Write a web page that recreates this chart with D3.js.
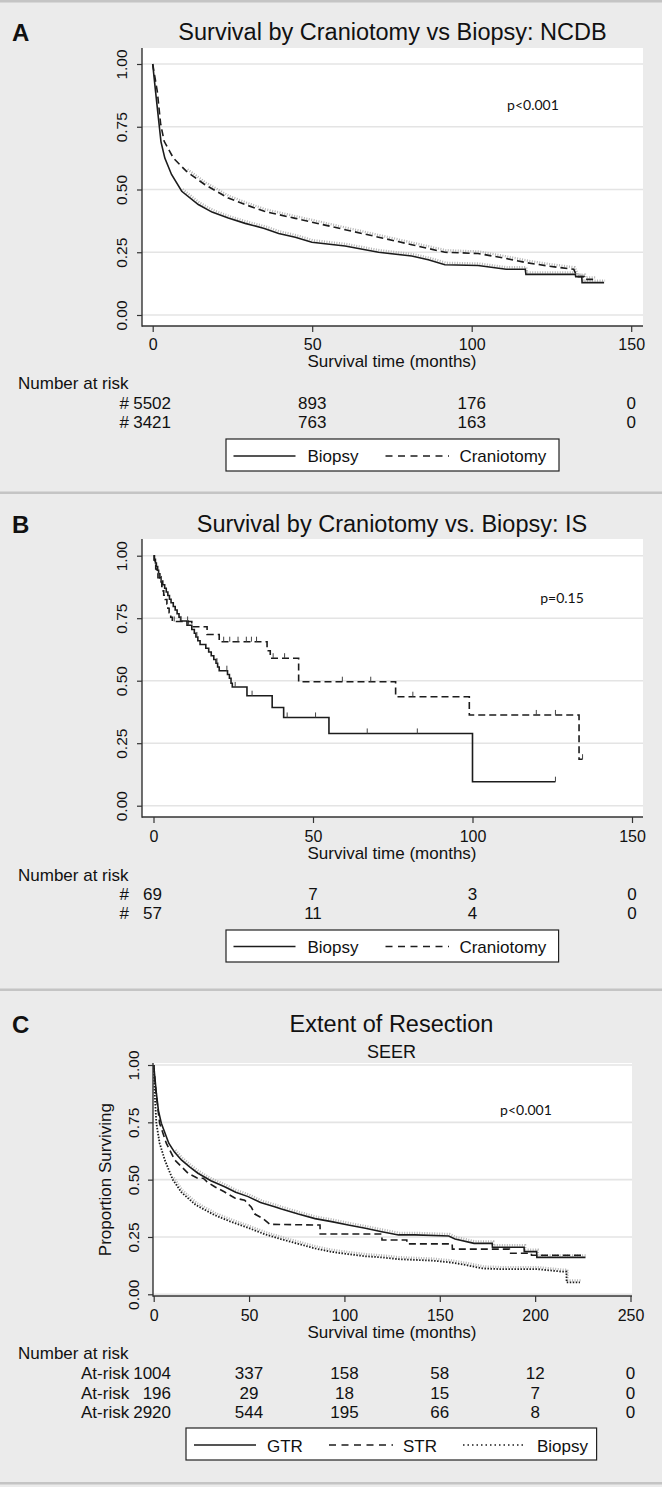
<!DOCTYPE html>
<html><head><meta charset="utf-8">
<script src="https://cdn.jsdelivr.net/npm/d3@7"></script>
<style>body{margin:0;background:#ebebeb}svg{display:block}text{font-family:"Liberation Sans",Arial,sans-serif;fill:#111}</style>
</head><body><svg id="c" width="662" height="1487"></svg>
<script>
// ---------- Panel A: NCDB ----------
const ncdbBiopsyT = [0,0.9,1.45,2.0,2.6,3.8,5.9,9.1,14.3,18.6,23.7,29,35,39.5,44.7,49.9,60.3,70.8,81.2,86.4,91.6,102,110.8,116.8,117,132.5,132.6,134.5,134.6,141.5];
const ncdbBiopsyS = [1,0.89,0.825,0.76,0.69,0.625,0.56,0.493,0.44,0.41,0.386,0.365,0.345,0.325,0.31,0.29,0.275,0.25,0.235,0.22,0.20,0.197,0.182,0.182,0.162,0.162,0.153,0.153,0.129,0.129];
const ncdbCranT = [0,1.45,2.5,3.6,6.5,10.6,16.4,23.7,29,35,39.5,44.7,49.9,60.3,70.8,81.2,91.6,102,110.4,117.4,124,132,133,135.2,135.3,138.5];
const ncdbCranS = [1,0.89,0.76,0.692,0.625,0.572,0.519,0.466,0.44,0.413,0.40,0.385,0.37,0.34,0.31,0.28,0.25,0.245,0.226,0.208,0.195,0.182,0.153,0.153,0.142,0.142];
const ncdbRiskTimes = [0,50,100,150];
const ncdbRiskBiopsy = [5502,893,176,0];
const ncdbRiskCran = [3421,763,163,0];

// ---------- Panel B: IS ----------
const isBiopsyT = [0,0.3,0.6,0.9,1.3,1.6,2.0,2.4,2.9,3.5,4.0,4.5,5.0,5.5,6.2,6.8,7.4,8.0,8.5,10.5,12.0,12.8,13.3,13.9,14.6,16.4,17.3,18.1,18.9,19.6,20.1,20.6,23.2,23.8,24.3,24.7,29.3,37.2,40.8,55.0,100.0,126];
const isBiopsyS = [1,0.986,0.971,0.957,0.942,0.928,0.913,0.899,0.884,0.870,0.855,0.841,0.826,0.812,0.797,0.783,0.768,0.754,0.739,0.722,0.705,0.690,0.675,0.660,0.645,0.630,0.615,0.600,0.585,0.570,0.555,0.540,0.525,0.510,0.490,0.475,0.440,0.393,0.353,0.289,0.096,0.096];
const isBiopsyCens = [2.5,8.6,11,13.6,19.9,23,25.6,30.9,41.9,50.8,67,82.7,126];
const isCranT = [0,0.2,0.4,0.7,1.0,1.4,1.9,2.6,2.9,3.2,3.7,4.2,4.5,4.9,5.4,5.9,12.0,16.8,20.6,35.6,36.6,45.5,75.9,99.0,133.4,134.5];
const isCranS = [1,0.982,0.965,0.947,0.930,0.912,0.895,0.877,0.860,0.842,0.825,0.807,0.790,0.772,0.754,0.737,0.716,0.685,0.656,0.620,0.590,0.496,0.436,0.363,0.186,0.186];
const isCranCens = [1.5,6.5,10.7,22,23.9,26.5,29.1,30.7,32.3,37.5,41.1,59.2,68.1,81.3,120,126,134.5];
const isRiskTimes = [0,50,100,150];
const isRiskBiopsy = [69,7,3,0];
const isRiskCran = [57,11,4,0];

// ---------- Panel C: SEER ----------
const seerGtrT = [0,1.4,2.5,4,7.9,10.9,14.5,19,23.2,30,37.2,43,49.5,56,63.4,67,75.8,84.6,93.3,102,111,119.6,128.4,137,154.7,158,168,177.5,177.6,194.2,194.3,200.8,200.9,226.4];
const seerGtrS = [1,0.877,0.80,0.746,0.659,0.62,0.586,0.555,0.528,0.495,0.469,0.445,0.426,0.40,0.382,0.372,0.35,0.33,0.317,0.302,0.288,0.273,0.259,0.259,0.254,0.241,0.222,0.222,0.205,0.205,0.186,0.186,0.161,0.161];
const seerStrT = [0,1.2,3.1,6.6,11,18,23,26,28,32,37,42.5,47.7,51.2,53,57.4,61,87.2,87.3,119.6,119.7,132.7,132.8,156.5,156.6,186.5,186.6,198,198.1,226];
const seerStrS = [1,0.88,0.746,0.659,0.586,0.528,0.506,0.506,0.49,0.469,0.447,0.42,0.41,0.38,0.35,0.33,0.305,0.302,0.263,0.263,0.237,0.237,0.22,0.22,0.197,0.197,0.179,0.179,0.17,0.17];
const seerBiopsyT = [0,0.5,1.4,3.1,5.8,10,14.5,22,32,40,49.5,58.2,67,75.8,84.6,93.3,102,111,119.6,128.4,137,146,154.7,163.5,172.3,181,200.8,214,216.4,216.5,223.5];
const seerBiopsyS = [1,0.877,0.746,0.659,0.586,0.50,0.445,0.39,0.345,0.318,0.29,0.262,0.24,0.22,0.20,0.185,0.175,0.166,0.161,0.153,0.150,0.147,0.14,0.128,0.113,0.11,0.11,0.099,0.099,0.052,0.052];
const seerRiskTimes = [0,50,100,150,200,250];
const seerRiskGtr = [1004,337,158,58,12,0];
const seerRiskStr = [196,29,18,15,7,0];
const seerRiskBiopsy = [2920,544,195,66,8,0];

const yTicks = [0,0.25,0.5,0.75,1];

const svg = d3.select('#c');
svg.append('rect').attr('width',662).attr('height',1487).attr('fill','#ebebeb');
[0,491.5,988.5,1482].forEach(yy=>svg.append('rect').attr('x',0).attr('y',yy).attr('width',662).attr('height',2.5).attr('fill','#c4c4c4'));

function survAt(t,T,S){let v=S[0];for(let i=0;i<T.length;i++){if(T[i]<=t)v=S[i];}return v;}

function panel(c){
  const g = svg.append('g');
  const x = d3.scaleLinear().domain(c.xDomain).range(c.xRange);
  const y = d3.scaleLinear().domain([0,1]).range(c.yRange);
  const P = c.plot;
  g.append('rect').attr('x',P.x0).attr('y',P.y0).attr('width',P.x1-P.x0).attr('height',P.y1-P.y0).attr('fill','#fff');
  g.selectAll('.grid').data(yTicks).join('line')
    .attr('x1',P.x0).attr('x2',P.x1).attr('y1',d=>y(d)).attr('y2',d=>y(d))
    .attr('stroke','#e4e4e4').attr('stroke-width',1.6);
  c.series.forEach(s=>{
    const pts = s.t.map((t,i)=>[t,s.s[i]]);
    const line = d3.line().x(d=>x(d[0])).y(d=>y(d[1])).curve(s.step?d3.curveStepAfter:d3.curveLinear);
    if(s.halo){
      g.append('path').attr('d',line(pts.filter(d=>d[0]>8))).attr('fill','none')
        .attr('stroke','#b4b4b4').attr('stroke-width',2.4).attr('stroke-dasharray','1,1.5')
        .attr('transform','translate(1,-2)');
    }
    g.append('path').attr('d',line(pts)).attr('fill','none').attr('stroke','#1c1c1c')
      .attr('stroke-width',s.width||1.6).attr('stroke-dasharray',s.dash||null);
    if(s.cens){
      g.selectAll(null).data(s.cens).join('line')
        .attr('x1',d=>x(d)).attr('x2',d=>x(d))
        .attr('y1',d=>y(survAt(d,s.t,s.s))).attr('y2',d=>y(survAt(d,s.t,s.s))-5)
        .attr('stroke','#444').attr('stroke-width',1);
    }
  });
  const ya = g.append('g').attr('transform',`translate(${P.x0},0)`)
    .call(d3.axisLeft(y).tickValues(yTicks).tickFormat(d3.format('.2f')).tickSize(5).tickPadding(0));
  ya.select('.domain').remove();
  ya.selectAll('line').attr('stroke','#333').attr('stroke-width',1.2);
  ya.selectAll('text').attr('transform','rotate(-90)').attr('x',0).attr('y',-c.yLabOff).attr('dy',0)
    .attr('text-anchor','middle').style('font-size','15.5px').style('font-family','"Liberation Sans",Arial,sans-serif').attr('fill','#111');
  const xa = g.append('g').attr('transform',`translate(0,${P.y1})`)
    .call(d3.axisBottom(x).tickValues(c.xTicks).tickFormat(d3.format('d')).tickSize(6).tickPadding(0));
  xa.select('.domain').remove();
  xa.selectAll('line').attr('stroke','#333').attr('stroke-width',1.2);
  xa.selectAll('text').attr('y',c.xLabBase-P.y1).attr('dy',0).style('font-size','16px')
    .style('font-family','"Liberation Sans",Arial,sans-serif').attr('fill','#111');
  g.append('line').attr('x1',P.x0).attr('x2',P.x0).attr('y1',P.y0).attr('y2',P.y1+0.7).attr('stroke','#333').attr('stroke-width',1.4);
  g.append('line').attr('x1',P.x0).attr('x2',P.x1).attr('y1',P.y1).attr('y2',P.y1).attr('stroke','#333').attr('stroke-width',1.4);
  g.append('text').attr('x',12).attr('y',c.letterY).text(c.letter).style('font-size','24px').style('font-weight','bold');
  g.append('text').attr('x',c.titleX).attr('y',c.titleY).attr('text-anchor','middle').text(c.title).style('font-size','23.5px');
  if(c.subtitle) g.append('text').attr('x',c.titleX).attr('y',c.subY).attr('text-anchor','middle').text(c.subtitle).style('font-size','18px');
  if(c.yTitle) g.append('text').attr('transform',`translate(${c.yTitleX},${(y(0)+y(1))/2}) rotate(-90)`).attr('text-anchor','middle').text(c.yTitle).style('font-size','17px');
  g.append('text').attr('x',c.pX).attr('y',c.pY).attr('text-anchor','middle').text(c.pText)
    .style('font-family','Lato,"Open Sans",sans-serif').style('font-size','14px');
  g.append('text').attr('x',392).attr('y',c.xTitleY).attr('text-anchor','middle').text('Survival time (months)').style('font-size','17px');
  g.append('text').attr('x',18).attr('y',c.riskTitleY).text('Number at risk').style('font-size','17px');
  c.risk.forEach((r,i)=>{
    const yy = c.riskY[i];
    g.append('text').attr('x',c.riskPrefixX).attr('y',yy).text(c.riskPrefix).style('font-size','17px');
    r.forEach((v,j)=>{
      if(j===0){
        g.append('text').attr('x',c.riskFirstX).attr('y',yy).attr('text-anchor','end').text(v).style('font-size','17px');
      } else {
        g.append('text').attr('x',x(c.riskTimes[j])).attr('y',yy).attr('text-anchor','middle').text(v).style('font-size','17px');
      }
    });
  });
  const L = c.legend;
  g.append('rect').attr('x',L.x).attr('y',L.y).attr('width',L.w).attr('height',L.h).attr('fill','#fff').attr('stroke','#222').attr('stroke-width',1.2);
  L.items.forEach(it=>{
    g.append('line').attr('x1',it.x1).attr('x2',it.x2).attr('y1',L.lineY).attr('y2',L.lineY)
      .attr('stroke','#1c1c1c').attr('stroke-width',1.4).attr('stroke-dasharray',it.dash||null);
    g.append('text').attr('x',it.tx).attr('y',L.textY).text(it.label).style('font-size','17px');
  });
}

const legendAB = ['Biopsy','Craniotomy'];
const legendC = ['GTR','STR','Biopsy'];

panel({
  letter:'A', letterY:41, title:'Survival by Craniotomy vs Biopsy: NCDB', titleX:392.5, titleY:40,
  plot:{x0:142,x1:643,y0:48,y1:326}, xDomain:[0,150], xRange:[152.7,631.2], yRange:[315,64],
  xTicks:[0,50,100,150], yLabOff:15, xLabBase:349.5, xTitleY:367,
  pText:'p<0.001', pX:533, pY:110,
  series:[
    {t:ncdbBiopsyT,s:ncdbBiopsyS,halo:true},
    {t:ncdbCranT,s:ncdbCranS,dash:'7,4',halo:true}
  ],
  riskTitleY:389, riskY:[409,428], riskPrefix:'#', riskPrefixX:119.5, riskFirstX:171,
  riskTimes:ncdbRiskTimes, risk:[ncdbRiskBiopsy,ncdbRiskCran],
  legend:{x:226,y:439,w:333,h:32,lineY:456,textY:462,items:[
    {x1:233.5,x2:295.5,tx:307.4,label:legendAB[0]},
    {x1:385.5,x2:449,tx:459.4,label:legendAB[1],dash:'7,5.5'}]}
});

panel({
  letter:'B', letterY:533, title:'Survival by Craniotomy vs. Biopsy: IS', titleX:392, titleY:531.5,
  plot:{x0:142,x1:643,y0:539,y1:817}, xDomain:[0,150], xRange:[153.5,632], yRange:[805.7,555.7],
  xTicks:[0,50,100,150], yLabOff:15, xLabBase:841.5, xTitleY:859,
  pText:'p=0.15', pX:562, pY:603,
  series:[
    {t:isBiopsyT,s:isBiopsyS,step:true,cens:isBiopsyCens},
    {t:isCranT,s:isCranS,step:true,dash:'7,4',cens:isCranCens}
  ],
  riskTitleY:881, riskY:[900,919], riskPrefix:'#', riskPrefixX:119.5, riskFirstX:162,
  riskTimes:isRiskTimes, risk:[isRiskBiopsy,isRiskCran],
  legend:{x:226,y:930,w:332.6,h:32,lineY:946.5,textY:953,items:[
    {x1:233.5,x2:295.5,tx:307.4,label:legendAB[0]},
    {x1:385.5,x2:449,tx:459.4,label:legendAB[1],dash:'7,5.5'}]}
});

panel({
  letter:'C', letterY:1033, title:'Extent of Resection', titleX:391.5, titleY:1031.5,
  subtitle:'SEER', subY:1058, yTitle:'Proportion Surviving', yTitleX:110.5,
  plot:{x0:153,x1:632,y0:1063,y1:1296}, xDomain:[0,250], xRange:[153.7,630.5], yRange:[1294.3,1065],
  xTicks:[0,50,100,150,200,250], yLabOff:14.5, xLabBase:1320.5, xTitleY:1338,
  pText:'p<0.001', pX:526, pY:1115,
  series:[
    {t:seerGtrT,s:seerGtrS,halo:true},
    {t:seerStrT,s:seerStrS,dash:'7,4'},
    {t:seerBiopsyT,s:seerBiopsyS,dash:'1.5,1.5',width:1.8,halo:true}
  ],
  riskTitleY:1359, riskY:[1379,1399,1417.5], riskPrefix:'At-risk', riskPrefixX:81, riskFirstX:171,
  riskTimes:seerRiskTimes, risk:[seerRiskGtr,seerRiskStr,seerRiskBiopsy],
  legend:{x:186,y:1428,w:410.6,h:32,lineY:1445,textY:1451.5,items:[
    {x1:194,x2:256,tx:267,label:legendC[0]},
    {x1:329,x2:393,tx:403,label:legendC[1],dash:'7,5.5'},
    {x1:463,x2:525,tx:537,label:legendC[2],dash:'1.5,3'}]}
});
</script></body></html>
